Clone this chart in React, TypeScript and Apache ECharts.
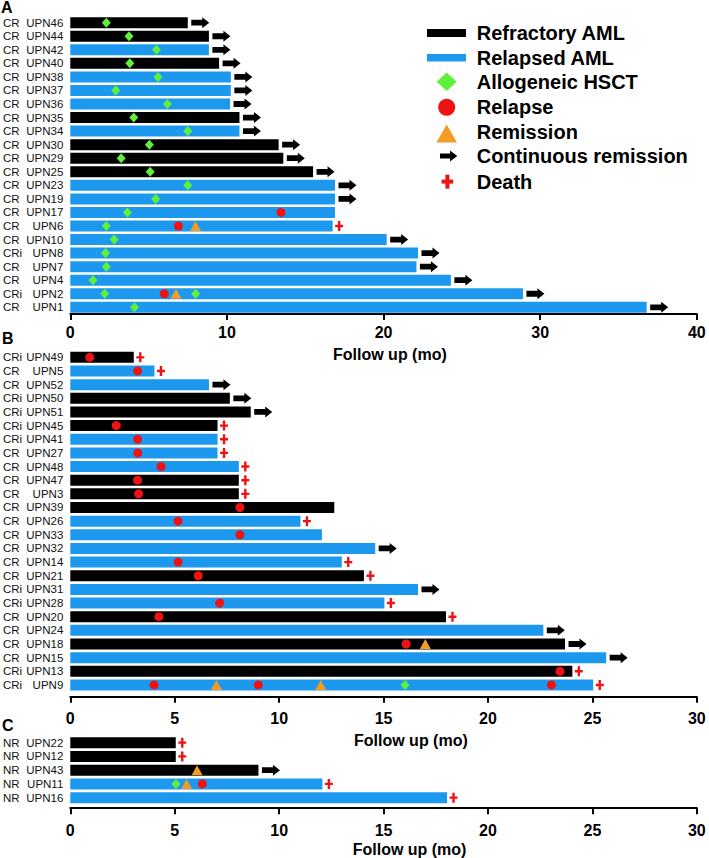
import React, { useEffect, useRef } from "react";
import * as echarts from "echarts";

// ---------- Panel A ----------
const catA = ["UPN46","UPN44","UPN42","UPN40","UPN38","UPN37","UPN36","UPN35","UPN34","UPN30","UPN29","UPN25","UPN23","UPN19","UPN17","UPN6","UPN10","UPN8","UPN7","UPN4","UPN2","UPN1"];
const statusA = ["CR","CR","CR","CR","CR","CR","CR","CR","CR","CR","CR","CR","CR","CR","CR","CR","CR","CRi","CR","CR","CRi","CR"];
const typeA = ["F","F","L","F","L","L","L","F","L","F","F","F","L","L","L","L","L","L","L","L","L","L"];
const durA = [7.5,8.85,8.85,9.5,10.25,10.25,10.2,10.8,10.8,13.3,13.6,15.5,16.9,16.9,16.9,16.75,20.2,22.2,22.1,24.3,28.9,36.8];
const hsctA: [number, string][] = [[2.3,"UPN46"],[3.75,"UPN44"],[5.5,"UPN42"],[3.8,"UPN40"],[5.6,"UPN38"],[2.9,"UPN37"],[6.2,"UPN36"],[4.05,"UPN35"],[7.5,"UPN34"],[5.05,"UPN30"],[3.25,"UPN29"],[5.1,"UPN25"],[7.5,"UPN23"],[5.45,"UPN19"],[3.65,"UPN17"],[2.3,"UPN6"],[2.8,"UPN10"],[2.25,"UPN8"],[2.3,"UPN7"],[1.45,"UPN4"],[2.2,"UPN2"],[8.0,"UPN2"],[4.1,"UPN1"]];
const relapseA: [number, string][] = [[13.45,"UPN17"],[6.9,"UPN6"],[6.0,"UPN2"]];
const remissionA: [number, string][] = [[8.0,"UPN6"],[6.75,"UPN2"]];
const continuousA = ["UPN46","UPN44","UPN42","UPN40","UPN38","UPN37","UPN36","UPN35","UPN34","UPN30","UPN29","UPN25","UPN23","UPN19","UPN10","UPN8","UPN7","UPN4","UPN2","UPN1"];
const deathA = ["UPN6"];
const ticksA = { min: 0, max: 40, interval: 10 };

// ---------- Panel B ----------
const catB = ["UPN49","UPN5","UPN52","UPN50","UPN51","UPN45","UPN41","UPN27","UPN48","UPN47","UPN3","UPN39","UPN26","UPN33","UPN32","UPN14","UPN21","UPN31","UPN28","UPN20","UPN24","UPN18","UPN15","UPN13","UPN9"];
const statusB = ["CRi","CR","CR","CRi","CRi","CRi","CRi","CR","CR","CR","CR","CR","CR","CR","CR","CR","CR","CRi","CRi","CR","CR","CR","CR","CRi","CRi"];
const typeB = ["F","L","L","F","F","F","L","L","L","F","F","F","L","L","L","L","F","L","L","F","L","F","L","F","L"];
const durB = [3.04,4.03,6.64,7.64,8.64,7.05,7.05,7.05,8.07,8.07,8.07,12.64,11.02,12.05,14.6,13.0,14.06,16.65,15.04,17.99,22.65,23.69,25.66,24.04,25.04];
const hsctB: [number, string][] = [[16.03,"UPN9"]];
const relapseB: [number, string][] = [[0.93,"UPN49"],[3.22,"UPN5"],[2.2,"UPN45"],[3.22,"UPN41"],[3.23,"UPN27"],[4.35,"UPN48"],[3.22,"UPN47"],[3.27,"UPN3"],[8.12,"UPN39"],[5.16,"UPN26"],[8.12,"UPN33"],[5.16,"UPN14"],[6.13,"UPN21"],[7.15,"UPN28"],[4.24,"UPN20"],[16.08,"UPN18"],[23.45,"UPN13"],[4.01,"UPN9"],[9.0,"UPN9"],[23.04,"UPN9"]];
const remissionB: [number, string][] = [[17.0,"UPN18"],[7.0,"UPN9"],[11.99,"UPN9"]];
const continuousB = ["UPN52","UPN50","UPN51","UPN32","UPN31","UPN24","UPN18","UPN15"];
const deathB = ["UPN49","UPN5","UPN45","UPN41","UPN27","UPN48","UPN47","UPN3","UPN26","UPN14","UPN21","UPN28","UPN20","UPN13","UPN9"];
const ticksB = { min: 0, max: 30, interval: 5 };

// ---------- Panel C ----------
const catC = ["UPN22","UPN12","UPN43","UPN11","UPN16"];
const statusC = ["NR","NR","NR","NR","NR"];
const typeC = ["F","F","F","L","L"];
const durC = [5.05,5.05,9.01,12.07,18.04];
const hsctC: [number, string][] = [[5.06,"UPN11"]];
const relapseC: [number, string][] = [[6.32,"UPN11"]];
const remissionC: [number, string][] = [[6.07,"UPN43"],[5.57,"UPN11"]];
const continuousC = ["UPN43"];
const deathC = ["UPN22","UPN12","UPN11","UPN16"];
const ticksC = { min: 0, max: 30, interval: 5 };

const legendLabels = ["Refractory AML","Relapsed AML","Allogeneic HSCT","Relapse","Remission","Continuous remission","Death"];
const axisTitle = "Follow up (mo)";

const BLACK = "#000000";
const BLUE = "#1C99EF";
const GREEN = "#5EF03A";
const RED = "#F01212";
const ORANGE = "#F29B25";
const FONT = '"Liberation Sans", Arial, Helvetica, sans-serif';

const ARROW = "path://M0,2.6 L11,2.6 L11,0 L18,5.5 L11,11 L11,8.4 L0,8.4 Z";
const CROSS = "path://M2.8,0 L5.2,0 L5.2,3.8 L8,3.8 L8,6.2 L5.2,6.2 L5.2,10 L2.8,10 L2.8,6.2 L0,6.2 L0,3.8 L2.8,3.8 Z";

type Panel = {
  cat: string[]; status: string[]; type: string[]; dur: number[];
  hsct: [number, string][]; relapse: [number, string][]; remission: [number, string][];
  cont: string[]; death: string[]; ticks: { min: number; max: number; interval: number };
  top: number; height: number; offset: number; labelMargin: number;
};

const panels: Panel[] = [
  { cat: catA, status: statusA, type: typeA, dur: durA, hsct: hsctA, relapse: relapseA, remission: remissionA, cont: continuousA, death: deathA, ticks: ticksA, top: 15.9, height: 298.2, offset: 0, labelMargin: 10 },
  { cat: catB, status: statusB, type: typeB, dur: durB, hsct: hsctB, relapse: relapseB, remission: remissionB, cont: continuousB, death: deathB, ticks: ticksB, top: 350.5, height: 341.3, offset: 5, labelMargin: 14 },
  { cat: catC, status: statusC, type: typeC, dur: durC, hsct: hsctC, relapse: relapseC, remission: remissionC, cont: continuousC, death: deathC, ticks: ticksC, top: 735.8, height: 68.75, offset: 3.6, labelMargin: 14 },
];

function buildOption() {
  const grid: any[] = [];
  const xAxis: any[] = [];
  const yAxis: any[] = [];
  const series: any[] = [];
  panels.forEach((p, i) => {
    grid.push({ left: 68.3, width: 628.5, top: p.top, height: p.height, containLabel: false });
    xAxis.push({
      type: "value", gridIndex: i, min: p.ticks.min, max: p.ticks.max, interval: p.ticks.interval,
      position: "bottom", offset: p.offset,
      axisLine: { show: true, lineStyle: { color: "#000", width: 2 } },
      axisTick: { show: true, length: 6, lineStyle: { color: "#000", width: 2 } },
      axisLabel: { margin: p.labelMargin, color: "#000", fontSize: 16, fontWeight: "bold", fontFamily: FONT },
      splitLine: { show: false },
    });
    yAxis.push({
      type: "category", gridIndex: i, data: p.cat, inverse: true,
      axisLine: { show: false }, axisTick: { show: false },
      axisLabel: { margin: 7, color: "#111", fontSize: 11.5, fontFamily: FONT, interval: 0 },
    });
    yAxis.push({
      type: "category", gridIndex: i, data: p.cat, inverse: true, position: "left",
      axisLine: { show: false }, axisTick: { show: false },
      axisLabel: { margin: 67.3, align: "left", color: "#111", fontSize: 11.5, fontFamily: FONT, interval: 0,
        formatter: (_v: string, idx: number) => p.status[idx] },
    });
    const yi = i * 2;
    const durOf = (n: string) => p.dur[p.cat.indexOf(n)];
    series.push({
      type: "bar", name: "bars" + i, xAxisIndex: i, yAxisIndex: yi, barWidth: 11,
      data: p.dur.map((d, k) => ({ value: d, itemStyle: { color: p.type[k] === "F" ? BLACK : BLUE } })),
      z: 2,
    });
    series.push({
      type: "scatter", name: legendLabels[2], xAxisIndex: i, yAxisIndex: yi, symbol: "diamond", symbolSize: [9, 10],
      itemStyle: { color: GREEN, opacity: 1 }, data: p.hsct, z: 4,
    });
    series.push({
      type: "scatter", name: legendLabels[3], xAxisIndex: i, yAxisIndex: yi, symbol: "circle", symbolSize: 9,
      itemStyle: { color: RED, opacity: 1 }, data: p.relapse, z: 4,
    });
    series.push({
      type: "scatter", name: legendLabels[4], xAxisIndex: i, yAxisIndex: yi, symbol: "triangle", symbolSize: [11, 10],
      itemStyle: { color: ORANGE, opacity: 1 }, data: p.remission, z: 4,
    });
    series.push({
      type: "scatter", name: legendLabels[5], xAxisIndex: i, yAxisIndex: yi, symbol: ARROW, symbolSize: [18, 11],
      symbolOffset: [12.5, 0], itemStyle: { color: BLACK, opacity: 1 }, data: p.cont.map((n) => [durOf(n), n]), z: 4,
    });
    series.push({
      type: "scatter", name: legendLabels[6], xAxisIndex: i, yAxisIndex: yi, symbol: CROSS, symbolSize: [8, 10],
      symbolOffset: [6.5, 0], itemStyle: { color: RED, opacity: 1 }, data: p.death.map((n) => [durOf(n), n]), z: 4,
    });
  });

  const txt = (x: number, y: number, text: string, size: number, weight = "bold") => ({
    type: "text", x, y,
    style: { text, fill: "#000", fontSize: size, fontWeight: weight, fontFamily: FONT, align: "left", verticalAlign: "middle" },
  });

  const lx = 476.7;
  const graphic: any[] = [
    txt(1, 7, "A", 16), txt(2, 338, "B", 16), txt(2, 725.7, "C", 16),
    txt(333, 354.5, axisTitle, 16), txt(354, 740, axisTitle, 16), txt(352.7, 849.5, axisTitle, 16),
    { type: "rect", shape: { x: 427, y: 29, width: 39, height: 8 }, style: { fill: BLACK } },
    { type: "rect", shape: { x: 427, y: 54, width: 39, height: 7.5 }, style: { fill: BLUE } },
    { type: "polygon", shape: { points: [[446.7, 72.5], [456.7, 81.7], [446.7, 90.9], [436.7, 81.7]] }, style: { fill: GREEN } },
    { type: "circle", shape: { cx: 446.7, cy: 107.3, r: 8.5 }, style: { fill: RED } },
    { type: "polygon", shape: { points: [[446.7, 124.5], [457, 142.5], [436.4, 142.5]] }, style: { fill: ORANGE } },
    { type: "polygon", shape: { points: [[440, 153.6], [450, 153.6], [450, 150.5], [457.3, 156], [450, 161.5], [450, 158.4], [440, 158.4]] }, style: { fill: BLACK } },
    { type: "rect", shape: { x: 445.4, y: 174.7, width: 4, height: 14 }, style: { fill: RED } },
    { type: "rect", shape: { x: 441.5, y: 179.6, width: 11.7, height: 4 }, style: { fill: RED } },
    txt(lx, 33.3, legendLabels[0], 20), txt(lx, 57.8, legendLabels[1], 20), txt(lx, 82, legendLabels[2], 20),
    txt(lx, 107, legendLabels[3], 20), txt(lx, 131.5, legendLabels[4], 20), txt(lx, 156, legendLabels[5], 20),
    txt(lx, 181.5, legendLabels[6], 20),
  ];

  return { animation: false, backgroundColor: "#fff", grid, xAxis, yAxis, series, graphic };
}

export default function App() {
  const ref = useRef<HTMLDivElement>(null);
  useEffect(() => {
    if (!ref.current) return;
    const chart = echarts.init(ref.current, undefined, { renderer: "svg" });
    chart.setOption(buildOption() as any);
    return () => chart.dispose();
  }, []);
  return <div ref={ref} style={{ position: "fixed", left: 0, top: 0, width: 709, height: 858, background: "#fff" }} />;
}
